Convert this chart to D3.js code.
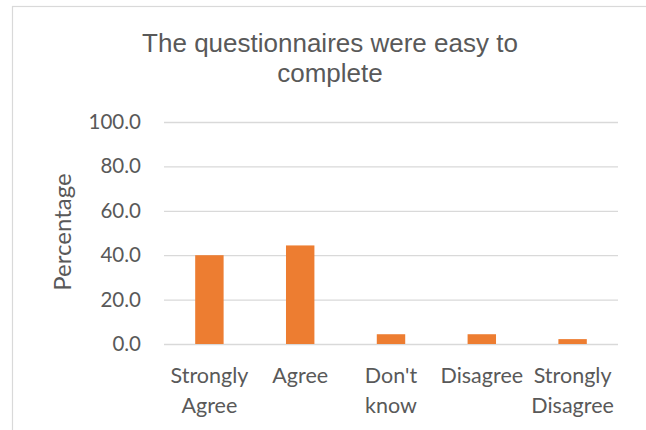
<!DOCTYPE html>
<html>
<head>
<meta charset="utf-8">
<script src="https://cdn.jsdelivr.net/npm/d3@7"></script>
<style>
  body { margin: 0; background: #fff; }
  svg { display: block; }
</style>
</head>
<body>
<div id="chart"></div>
<script>
const categories = ["Strongly Agree", "Agree", "Don't know", "Disagree", "Strongly Disagree"];
const percentages = [40.0, 44.4, 4.4, 4.4, 2.2];
const yTicks = [0, 20, 40, 60, 80, 100];
const titleLines = ["The questionnaires were easy to", "complete"];
const yLabel = "Percentage";

const width = 646;
const height = 430;
const plot = { left: 164, right: 618, top: 122, bottom: 344 };

const textColor = "#595959";
const gridColor = "#d9d9d9";
const barColor = "#ed7d31";
const tickFont = "Lato, 'Open Sans', sans-serif";

const svg = d3.select("#chart")
    .append("svg")
    .attr("width", width)
    .attr("height", height);

// chart area border (cut off at right and bottom)
svg.append("rect")
    .attr("x", 12.5)
    .attr("y", 6.5)
    .attr("width", 700)
    .attr("height", 500)
    .attr("fill", "#fff")
    .attr("stroke", gridColor)
    .attr("stroke-width", 1.2);

const xScale = d3.scaleBand()
    .domain(categories)
    .range([plot.left, plot.right])
    .paddingInner(0.687)
    .paddingOuter(0.3435);

const yScale = d3.scaleLinear()
    .domain([0, 100])
    .range([plot.bottom, plot.top]);

// gridlines + y tick labels
const yAxis = d3.axisLeft(yScale)
    .tickValues(yTicks)
    .tickSize(-(plot.right - plot.left))
    .tickPadding(23)
    .tickFormat(d3.format(".1f"));

const gy = svg.append("g")
    .attr("transform", `translate(${plot.left}, 0)`)
    .call(yAxis);
gy.select(".domain").remove();
gy.selectAll(".tick line")
    .attr("stroke", gridColor)
    .attr("stroke-width", 1.3);
gy.selectAll(".tick text")
    .attr("fill", textColor)
    .style("font-family", tickFont)
    .style("font-size", "20.5px");

// bars
svg.selectAll(".bar")
    .data(percentages)
    .enter()
    .append("rect")
    .attr("class", "bar")
    .attr("x", (d, i) => xScale(categories[i]))
    .attr("y", d => yScale(d))
    .attr("width", xScale.bandwidth())
    .attr("height", d => yScale(0) - yScale(d))
    .attr("fill", barColor);

// category labels, wrapped on spaces
const xAxis = d3.axisBottom(xScale).tickSize(0).tickPadding(0);
const gx = svg.append("g")
    .attr("transform", `translate(0, ${plot.bottom})`)
    .call(xAxis);
gx.select(".domain").remove();
gx.selectAll(".tick text")
    .attr("fill", textColor)
    .attr("y", 0)
    .attr("dy", null)
    .style("font-family", tickFont)
    .style("font-size", "21.5px")
    .each(function (d) {
        const t = d3.select(this);
        const words = d.split(" ");
        t.text(null);
        words.forEach((w, i) => {
            t.append("tspan")
                .attr("x", 0)
                .attr("y", 39 + i * 30)
                .text(w);
        });
    });

// y axis title
svg.append("text")
    .attr("transform", `translate(71, 232) rotate(-90)`)
    .attr("text-anchor", "middle")
    .attr("fill", textColor)
    .style("font-family", tickFont)
    .style("font-size", "24px")
    .text(yLabel);

// chart title
svg.append("g")
    .selectAll("text")
    .data(titleLines)
    .enter()
    .append("text")
    .attr("x", 330)
    .attr("y", (d, i) => 51.7 + i * 30)
    .attr("text-anchor", "middle")
    .attr("fill", textColor)
    .style("font-family", "'Liberation Sans', Arial, sans-serif")
    .style("font-size", "26px")
    .text(d => d);
</script>
</body>
</html>
